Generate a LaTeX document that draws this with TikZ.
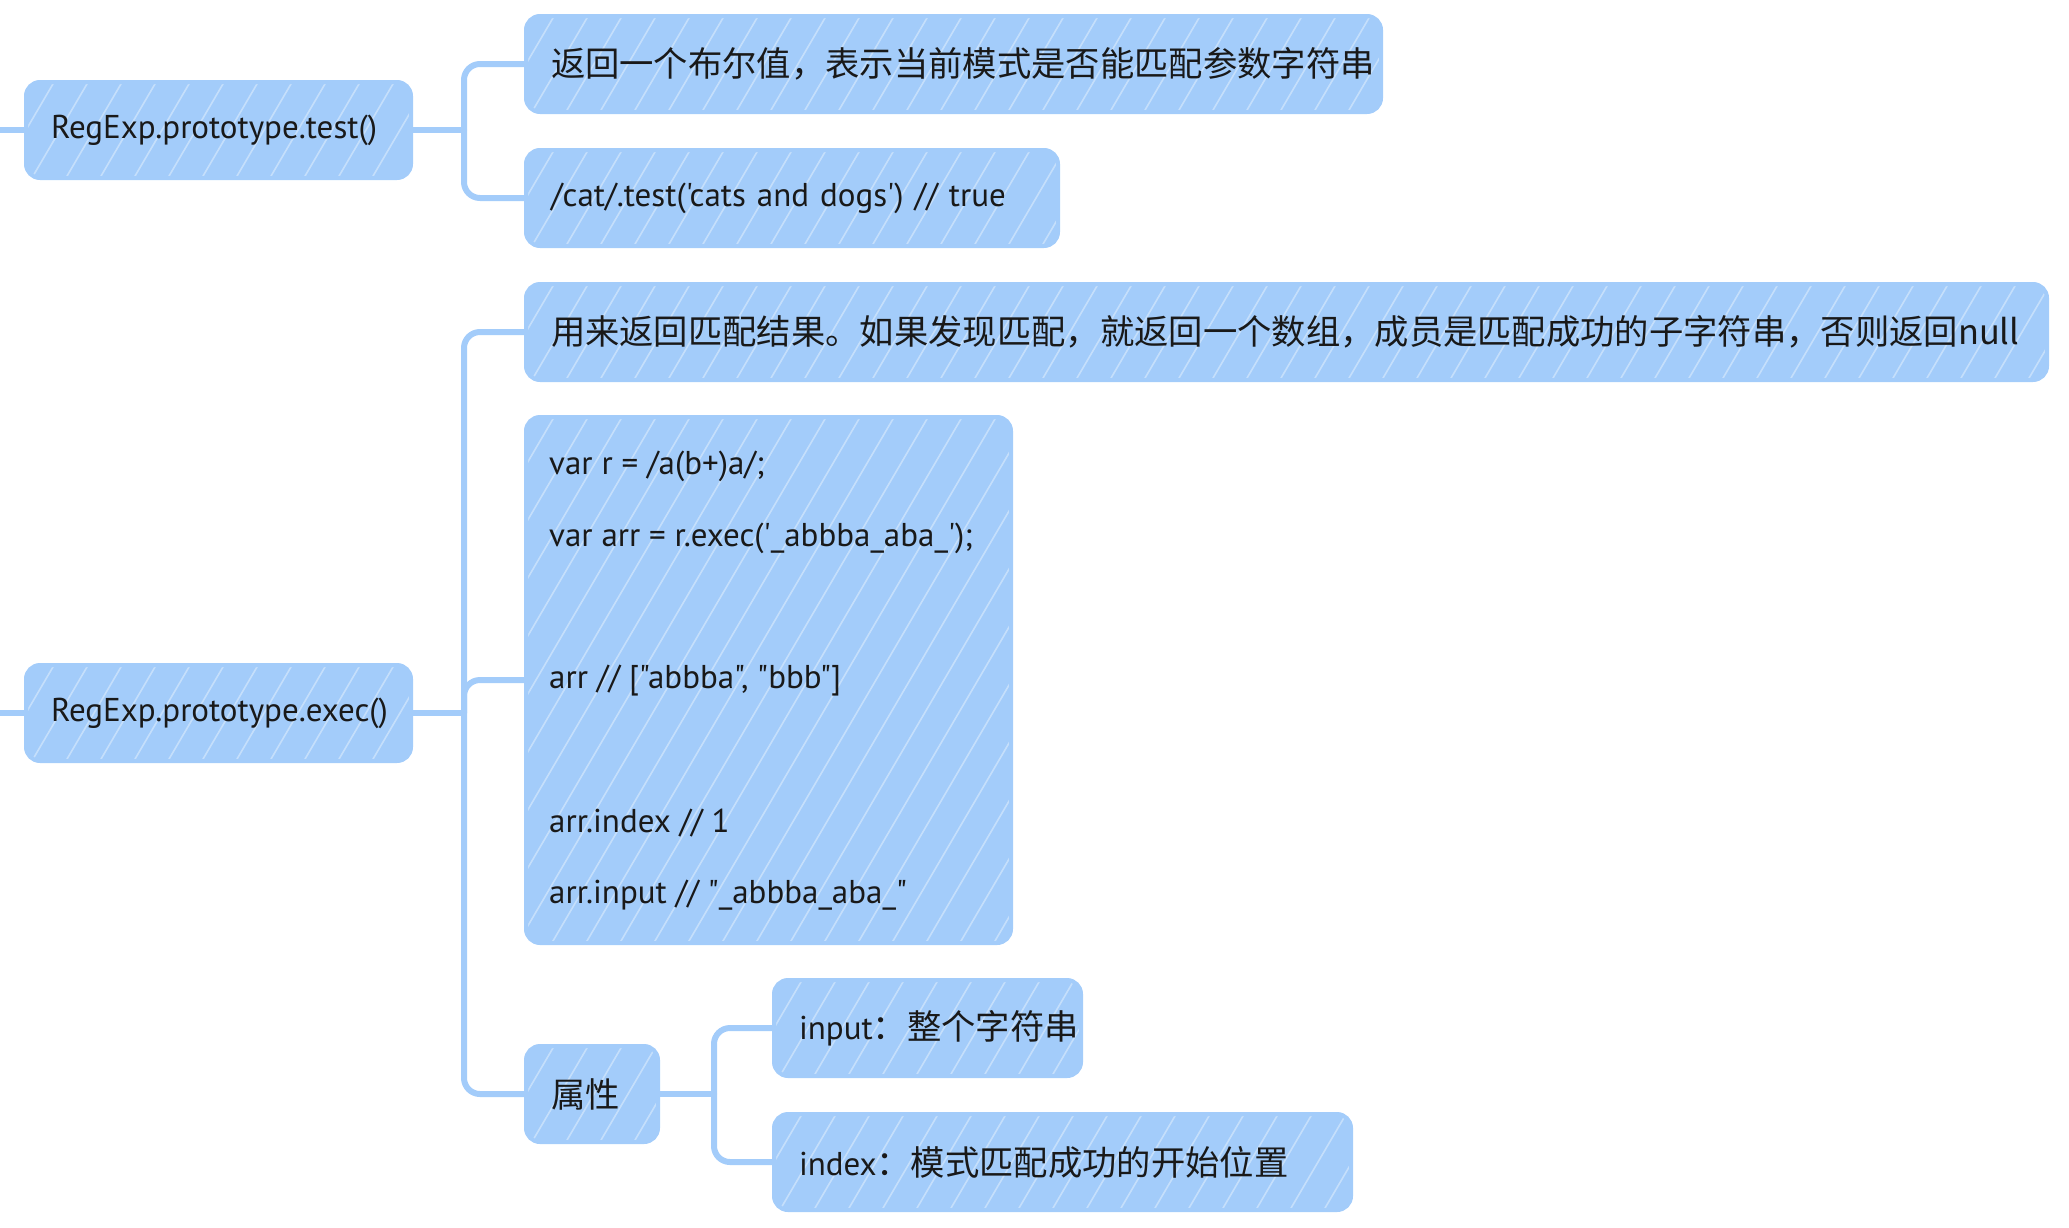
\documentclass[tikz,border=0pt]{standalone}
\usepackage{fontspec}
\setmainfont{PT Sans}
\newfontfamily\latin{PT Sans}
\newfontfamily\cjk{Noto Sans CJK SC}[Scale=1.04]
\usetikzlibrary{calc}
\definecolor{mmblue}{RGB}{163,204,250}
\definecolor{mmtext}{RGB}{25,25,25}
\begin{document}
\begin{tikzpicture}[x=1pt,y=-1pt,
  hatch/.style={path picture={
    \foreach \k in {0,...,62}{
      \draw[white, line width=1.6pt, opacity=0.38]
        ([xshift=\k*34pt, yshift=10pt]path picture bounding box.north west) -- ++(-340,580);
    }}},
  box/.style={draw=mmblue, fill=mmblue, line width=4pt, rounded corners=14pt,
    inner xsep=25pt, inner ysep=0pt, minimum height=96pt, anchor=west,
    align=left, text=mmtext, font=\latin\fontsize{33}{40}\selectfont, hatch},
  codeline/.style={anchor=west, inner sep=0pt, text=mmtext,
    font=\latin\fontsize{33}{40}\selectfont},
  conn/.style={draw=mmblue, line width=6pt, rounded corners=16pt, line cap=round}
]
\useasboundingbox (0,0) rectangle (2069,1227);

% nodes
\node[box, text width=335pt] (test) at (24,130) {RegExp.prototype.test()};
\node[box, text width=805pt] (bool) at (524,64) {{\cjk 返回一个布尔值，表示当前模式是否能匹配参数字符串}};
\node[box, text width=482pt] (cat) at (524,198) {/cat/.test('cats and dogs') // true};
\node[box, text width=335pt] (exec) at (24,713) {RegExp.prototype.exec()};
\node[box, text width=1471pt] (res) at (524,332) {{\cjk 用来返回匹配结果。如果发现匹配，就返回一个数组，成员是匹配成功的子字符串，否则返回null}};
\node[box, minimum width=485pt, minimum height=526pt] (code) at (524,680) {};
\node[box, text width=82pt] (attr) at (524,1094) {{\cjk 属性}};
\node[box, text width=257pt] (input) at (772,1028) {input{\cjk ：整个字符串}};
\node[box, text width=527pt] (index) at (772,1162) {index{\cjk ：模式匹配成功的开始位置}};

% code lines
\node[codeline] (c1) at (549,466) {var r = /a(b+)a/;};
\node[codeline] (c2) at (549,538) {var arr = r.exec('\_abbba\_aba\_');};
\node[codeline] (c3) at (549,681) {arr // ["abbba", "bbb"]};
\node[codeline] (c4) at (549,823) {arr.index // 1};
\node[codeline] (c5) at (549,895) {arr.input // "\_abbba\_aba\_"};

% connectors
\coordinate (s1) at (0,130);
\coordinate (s2) at (0,713);
\coordinate (t1) at (464,130);
\coordinate (t2) at (464,713);
\coordinate (t3) at (714,1094);

\draw[conn] (s1) -- (test.west);
\draw[conn] (s2) -- (exec.west);

\draw[conn] (test.east) -- (t1);
\draw[conn] (t1) |- (bool.west);
\draw[conn] (t1) |- (cat.west);

\draw[conn] (exec.east) -- (t2);
\draw[conn] (t2) |- (res.west);
\draw[conn] (t2) |- (code.west);
\draw[conn] (t2) |- (attr.west);

\draw[conn] (attr.east) -- (t3);
\draw[conn] (t3) |- (input.west);
\draw[conn] (t3) |- (index.west);
\end{tikzpicture}
\end{document}
